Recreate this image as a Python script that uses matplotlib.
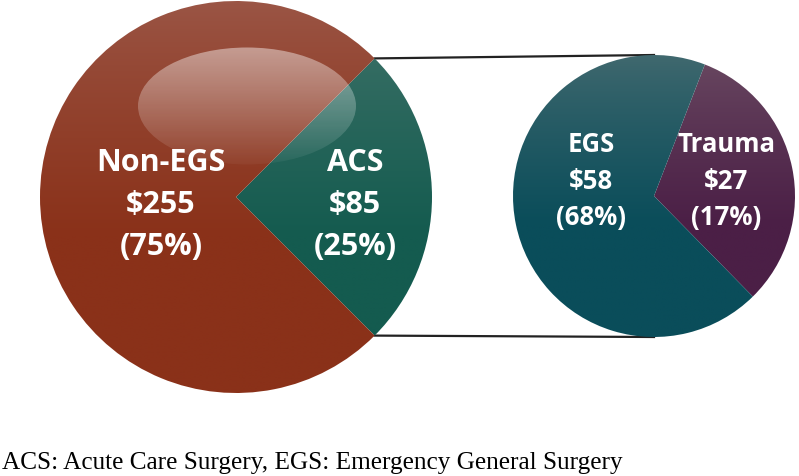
import numpy as np
import matplotlib
matplotlib.use("Agg")
import matplotlib.pyplot as plt
import matplotlib.colors as mcolors
from matplotlib.patches import Ellipse

# 数据
big_labels = ["ACS", "Non-EGS"]
big_values = [85, 255]
big_pcts = ["25%", "75%"]
small_labels = ["Trauma", "EGS"]
small_values = [27, 58]
small_pcts = ["17%", "68%"]
caption = "ACS: Acute Care Surgery, EGS: Emergency General Surgery"

# 渐变色 (上, 下)
big_colors = [("#44756c", "#145b4f"), ("#9b5646", "#8a3119")]
small_colors = [("#6a4a62", "#4b1f46"), ("#41696f", "#0a4d5a")]

W, H = 799, 477
fig = plt.figure(figsize=(W / 100, H / 100), dpi=100)
ax = fig.add_axes([0, 0, 1, 1])
ax.set_axis_off()


def gradient_fill(ax, patch, top, bottom, cx, cy, r):
    t = np.linspace(0, 1, 256)
    t = np.clip(t / 0.6, 0, 1) ** 0.8
    t = t[:, None, None]
    c0 = np.array(mcolors.to_rgb(top))
    c1 = np.array(mcolors.to_rgb(bottom))
    img = c0 * (1 - t) + c1 * t
    im = ax.imshow(img, extent=(cx - r, cx + r, cy - r, cy + r), origin="upper",
                   aspect="auto", zorder=2, interpolation="bilinear")
    im.set_clip_path(patch)


def draw_pie(ax, values, colors, cx, cy, r, start):
    wedges, _ = ax.pie(values, startangle=start, center=(cx, cy), radius=r,
                       frame=True, wedgeprops=dict(linewidth=0, facecolor="none"))
    for w, (top, bottom) in zip(wedges, colors):
        gradient_fill(ax, w, top, bottom, cx, cy, r)
    return wedges


# 大饼图
bcx, bcy, br = 236, 279, 196
big_start = -45
draw_pie(ax, big_values, big_colors, bcx, bcy, br, big_start)

# 高光
hl = Ellipse((247, 370), 218, 117, facecolor="none", edgecolor="none", zorder=3)
ax.add_patch(hl)
t = np.linspace(0, 1, 256)[:, None]
hl_img = np.zeros((256, 1, 4))
hl_img[..., :3] = 1.0
hl_img[..., 3] = 0.45 * (1 - t) + 0.04 * t
im = ax.imshow(hl_img, extent=(247 - 109, 247 + 109, 370 - 59, 370 + 59), origin="upper",
               aspect="auto", zorder=3, interpolation="bilinear")
im.set_clip_path(hl)

# 小饼图
scx, scy, sr = 654, 280, 141
small_start = -45.5
draw_pie(ax, small_values, small_colors, scx, scy, sr, small_start)

# 连接线
acs_span = 360 * big_values[0] / sum(big_values)
a1 = np.deg2rad(big_start + acs_span)
a0 = np.deg2rad(big_start)
ax.plot([bcx + br * np.cos(a1), scx], [bcy + br * np.sin(a1), scy + sr], color="#222222", lw=1.6, zorder=1)
ax.plot([bcx + br * np.cos(a0), scx], [bcy + br * np.sin(a0), scy - sr], color="#222222", lw=1.6, zorder=1)

# 标签
font = ["Open Sans", "DejaVu Sans"]


def label(x, y, lines, size, step):
    for i, s in enumerate(lines):
        ax.text(x, y - i * step, s, ha="center", va="center", color="white",
                fontsize=size, fontweight="bold", family=font, zorder=5)


label(161, 477 - 163, [big_labels[1], "$%d" % big_values[1], "(%s)" % big_pcts[1]], 22, 42)
label(355, 477 - 163, [big_labels[0], "$%d" % big_values[0], "(%s)" % big_pcts[0]], 22, 42)
label(591, 477 - 144, [small_labels[1], "$%d" % small_values[1], "(%s)" % small_pcts[1]], 18.5, 37)
label(726, 477 - 144, [small_labels[0], "$%d" % small_values[0], "(%s)" % small_pcts[0]], 18.5, 37)

ax.text(2, 477 - 463, caption, ha="left", va="center", fontsize=18.2,
        family=["Liberation Serif", "DejaVu Serif"], color="black")

ax.set_xlim(0, W)
ax.set_ylim(0, H)
ax.set_aspect("auto")
fig.savefig("out.png", dpi=100)
